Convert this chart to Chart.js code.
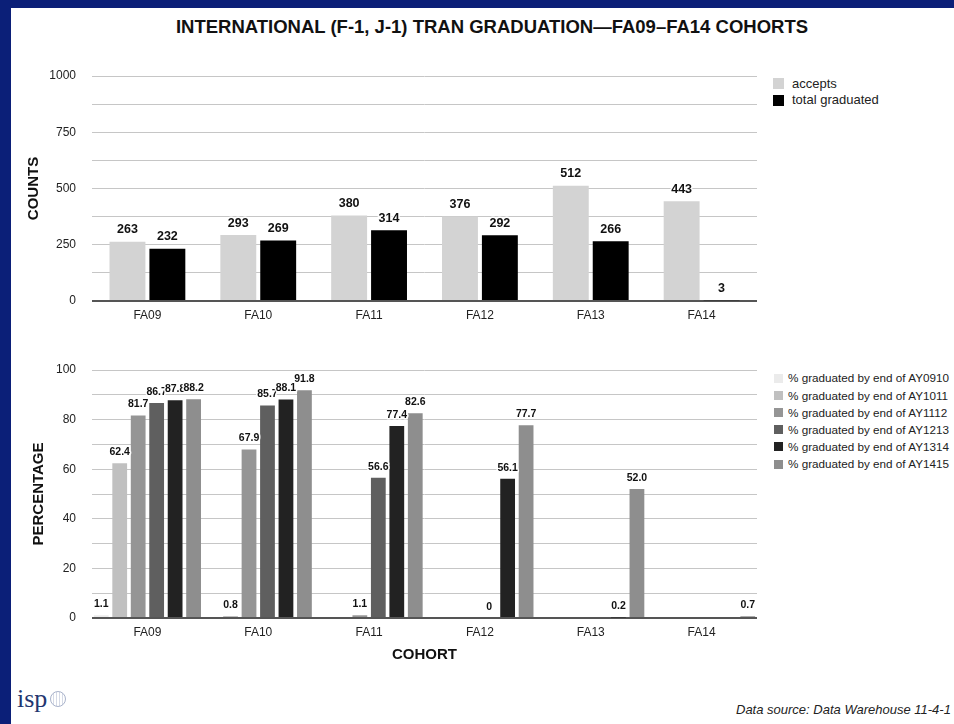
<!DOCTYPE html>
<html>
<head>
<meta charset="utf-8">
<script src="https://cdn.jsdelivr.net/npm/chart.js@4.4.0/dist/chart.umd.min.js"></script>
<style>
    html, body { margin: 0; padding: 0; width: 954px; height: 724px; overflow: hidden; background: #fff; font-family: "Liberation Sans", Arial, sans-serif; }
    .frame { position: absolute; background: #0b1f78; }
    #title { position: absolute; left: 0; top: 16px; width: 984px; text-align: center; font-weight: bold; font-size: 18.5px; line-height: 22px; color: #111; white-space: nowrap; }
    .wrap { position: absolute; left: 0; }
    .legend { position: absolute; left: 0; top: 0; }
    .legend-row { position: absolute; white-space: nowrap; color: #222; }
    .legend-box { position: absolute; }
    #logo { position: absolute; left: 17px; top: 686px; font-family: "Liberation Serif", "DejaVu Serif", serif; font-size: 26px; line-height: 26px; color: #23356f; }
    #globe { position: absolute; left: 50px; top: 691px; width: 14px; height: 14px; border-radius: 50%; border: 1px solid #a9b3cb;
             background: repeating-linear-gradient(90deg, #fff 0 2px, #d5dae6 2px 3px); }
    #source { position: absolute; left: 736px; top: 702px; font-size: 13px; font-style: italic; color: #222; white-space: nowrap; }
</style>
</head>
<body>
<div class="frame" style="left:0;top:0;width:954px;height:8px"></div>
<div class="frame" style="left:0;top:0;width:11px;height:724px"></div>
<div id="title">INTERNATIONAL (F-1, J-1) TRAN GRADUATION—FA09–FA14 COHORTS</div>

<div class="wrap" style="top:60px"><canvas id="countsChart" width="770" height="275"></canvas></div>
<div class="wrap" style="top:350px"><canvas id="pctChart" width="770" height="320"></canvas></div>
<div id="countsLegend" class="legend"></div>
<div id="pctLegend" class="legend"></div>

<div id="logo">isp</div>
<div id="globe"></div>
<div id="source">Data source: Data Warehouse 11-4-1</div>

<script>
// chart data
const cohorts = ['FA09', 'FA10', 'FA11', 'FA12', 'FA13', 'FA14'];
const accepts = [263, 293, 380, 376, 512, 443];
const totalGraduated = [232, 269, 314, 292, 266, 3];

const pctLabels = ['% graduated by end of AY0910', '% graduated by end of AY1011', '% graduated by end of AY1112',
                   '% graduated by end of AY1213', '% graduated by end of AY1314', '% graduated by end of AY1415'];
const ay0910 = [1.1, null, null, null, null, null];
const ay1011 = [62.4, 0.8, null, null, null, null];
const ay1112 = [81.7, 67.9, 1.1, null, null, null];
const ay1213 = [86.7, 85.7, 56.6, 0, null, null];
const ay1314 = [87.8, 88.1, 77.4, 56.1, 0.2, null];
const ay1415 = [88.2, 91.8, 82.6, 77.7, 52.0, 0.7];

const pctColors = ['#ebebeb', '#c0c0c0', '#959595', '#5f5f5f', '#222222', '#8e8e8e'];
const FONT = '"Liberation Sans", Arial, sans-serif';

// draws the value above each bar
const barLabels = {
    id: 'barLabels',
    afterDatasetsDraw(chart, args, opts) {
        const ctx = chart.ctx;
        ctx.save();
        ctx.font = `bold ${opts.size}px ${FONT}`;
        ctx.textAlign = 'center';
        ctx.textBaseline = 'middle';
        ctx.lineJoin = 'round';
        chart.data.datasets.forEach((ds, i) => {
            chart.getDatasetMeta(i).data.forEach((bar, j) => {
                const v = ds.data[j];
                if (v === null) return;
                const txt = opts.format(v);
                const y = bar.y - opts.gap;
                ctx.strokeStyle = 'rgba(255,255,255,0.95)';
                ctx.lineWidth = 3;
                ctx.strokeText(txt, bar.x, y);
                ctx.fillStyle = '#111';
                ctx.fillText(txt, bar.x, y);
            });
        });
        ctx.restore();
    }
};

function gridColor(c) { return c.tick.value === 0 ? '#555' : '#c6c6c6'; }
function gridWidth(c) { return c.tick.value === 0 ? 2 : 1; }

function makeOptions(o) {
    return {
        responsive: false,
        animation: false,
        layout: { padding: { top: o.top, right: 13, left: 0, bottom: 0 } },
        plugins: {
            legend: { display: false },
            tooltip: { enabled: false },
            barLabels: { size: o.labelSize, gap: o.gap, format: o.format }
        },
        scales: {
            x: {
                grid: { display: false, drawTicks: false },
                border: { display: false },
                ticks: { color: '#222', font: { family: FONT, size: 12 }, padding: 7 },
                title: o.xTitle ? { display: true, text: o.xTitle, color: '#111', font: { family: FONT, size: 15, weight: 'bold' }, padding: { top: 0, bottom: 6 } } : { display: false },
                afterFit: s => { s.height = o.xHeight; }
            },
            y: {
                min: 0,
                max: o.max,
                // tick marks kept invisible: they only push the labels away from the plot
                grid: { color: gridColor, lineWidth: gridWidth, drawTicks: true, tickLength: 16, tickColor: 'rgba(0,0,0,0)' },
                border: { display: false },
                ticks: {
                    stepSize: o.step,
                    padding: 0,
                    color: '#222',
                    font: { family: FONT, size: 12 },
                    callback: v => (v % o.labelEvery === 0 ? v : '')
                },
                title: { display: true, text: o.yTitle, color: '#111', font: { family: FONT, size: 15, weight: 'bold' }, padding: { top: o.yTitlePad, bottom: 0 } },
                afterFit: s => { s.width = 92; }
            }
        }
    };
}

// top chart: counts
new Chart(document.getElementById('countsChart'), {
    type: 'bar',
    data: {
        labels: cohorts,
        datasets: [
            { label: 'accepts', data: accepts, backgroundColor: '#d3d3d3', categoryPercentage: 0.72, barPercentage: 0.9 },
            { label: 'total graduated', data: totalGraduated, backgroundColor: '#000000', categoryPercentage: 0.72, barPercentage: 0.9 }
        ]
    },
    options: makeOptions({ top: 16, max: 1000, step: 125, labelEvery: 250, yTitle: 'COUNTS', yTitlePad: 25, xHeight: 34,
                           labelSize: 12.5, gap: 12, format: v => String(v) }),
    plugins: [barLabels]
});

// bottom chart: percentages
const pctSeries = [ay0910, ay1011, ay1112, ay1213, ay1314, ay1415];
new Chart(document.getElementById('pctChart'), {
    type: 'bar',
    data: {
        labels: cohorts,
        datasets: pctSeries.map((d, i) => ({
            label: pctLabels[i], data: d, backgroundColor: pctColors[i], categoryPercentage: 1.0, barPercentage: 0.8
        }))
    },
    options: makeOptions({ top: 20, max: 100, step: 10, labelEvery: 20, yTitle: 'PERCENTAGE', yTitlePad: 30, xHeight: 52, xTitle: 'COHORT',
                           labelSize: 10.5, gap: 11, format: v => (v === 0 ? '0' : v.toFixed(1)) }),
    plugins: [barLabels]
});

// legends to the right of the plots
function buildLegend(id, labels, colors, o) {
    const el = document.getElementById(id);
    labels.forEach((text, i) => {
        const cy = o.y0 + i * o.dy;
        const box = document.createElement('div');
        box.className = 'legend-box';
        box.style.cssText = `left:${o.boxX}px;top:${cy - o.box / 2}px;width:${o.box}px;height:${o.box}px;background:${colors[i]}`;
        el.appendChild(box);
        const row = document.createElement('div');
        row.className = 'legend-row';
        row.style.cssText = `left:${o.textX}px;top:${cy - o.size * 0.6}px;font-size:${o.size}px;line-height:${o.size * 1.2}px`;
        row.textContent = text;
        el.appendChild(row);
    });
}
buildLegend('countsLegend', ['accepts', 'total graduated'], ['#d3d3d3', '#000000'],
            { y0: 83.5, dy: 16.5, boxX: 773, box: 11, textX: 792, size: 13 });
buildLegend('pctLegend', pctLabels, pctColors,
            { y0: 378.5, dy: 17.1, boxX: 774, box: 9, textX: 788, size: 11.7 });
</script>
</body>
</html>
